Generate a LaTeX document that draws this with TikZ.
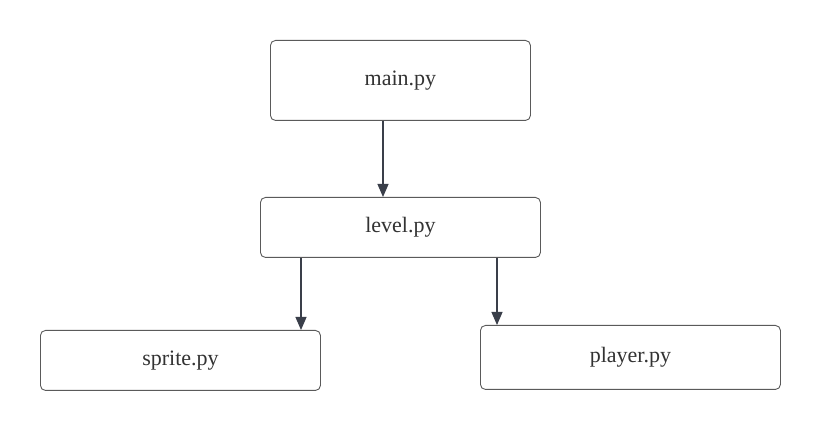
\documentclass[tikz,border=0pt]{standalone}
\usepackage{fontspec}
\setmainfont{Liberation Serif}
\usetikzlibrary{arrows.meta}
\definecolor{boxline}{HTML}{5A5A5A}
\definecolor{arrowc}{HTML}{3A3F4A}
\definecolor{txt}{HTML}{333333}
\begin{document}
\begin{tikzpicture}[x=1pt,y=-1pt,
  filebox/.style={draw=boxline, line width=0.9pt, rounded corners=5pt, fill=white,
    text=txt, font=\fontsize{22}{25}\selectfont, inner sep=0pt, anchor=north west},
  conn/.style={draw=arrowc, line width=1.1pt, -{Triangle[length=13pt,width=11pt]}}]
\useasboundingbox[fill=white] (0,0) rectangle (820,430);
\node[filebox, minimum width=260pt, minimum height=80pt] (main) at (270,40) {main.py};
\node[filebox, minimum width=280pt, minimum height=60pt] (level) at (260,197) {level.py};
\node[filebox, minimum width=280pt, minimum height=60pt] (sprite) at (40,330) {sprite.py};
\node[filebox, minimum width=300pt, minimum height=64pt] (player) at (480,325) {player.py};
\draw[conn] (main.south -| 383,0) -- (level.north -| 383,0);
\draw[conn] (level.south -| 301,0) -- (sprite.north -| 301,0);
\draw[conn] (level.south -| 497,0) -- (player.north -| 497,0);
\end{tikzpicture}
\end{document}
